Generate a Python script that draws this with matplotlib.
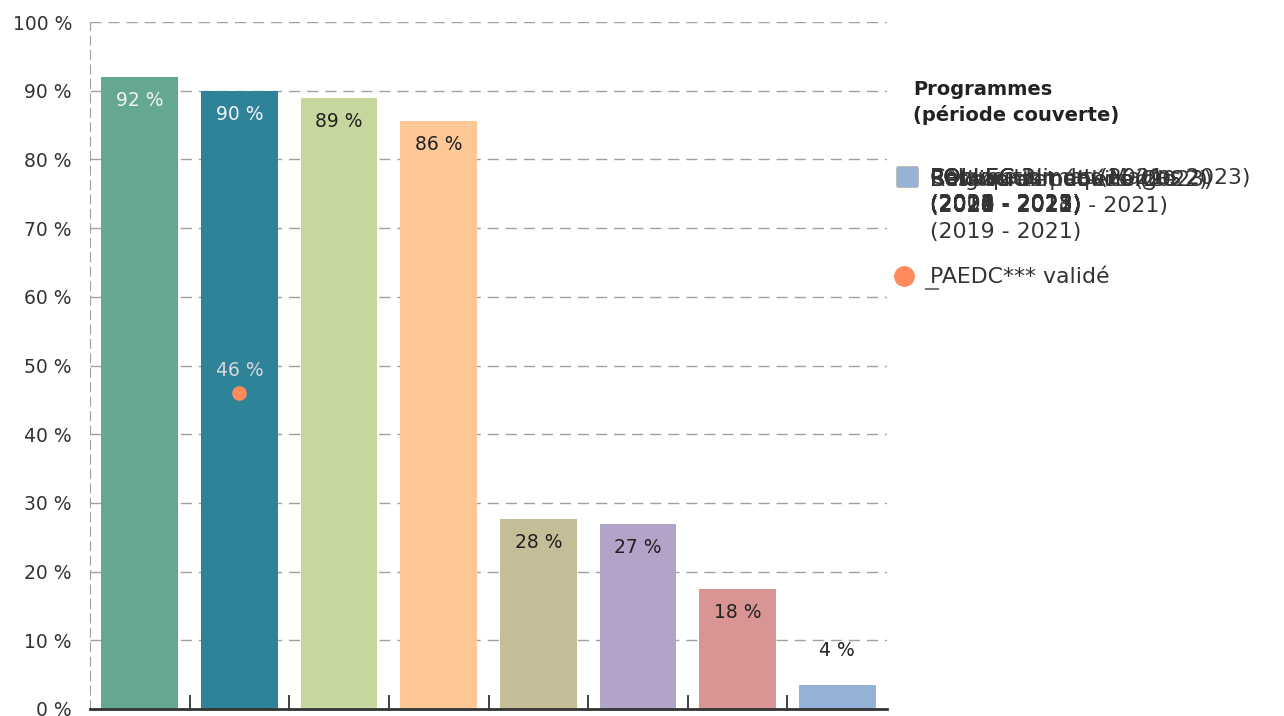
import matplotlib.pyplot as plt
from matplotlib.patches import Rectangle
from matplotlib.lines import Line2D

plt.rcParams['font.family'] = ['DejaVu Sans']

# valeurs (%)
valeurs = [92.0, 90.0, 88.9, 85.6, 27.6, 27.0, 17.5, 3.5]
etiquettes = ['92 %', '90 %', '89 %', '86 %', '28 %', '27 %', '18 %', '4 %']
couleurs = ['#64a98f', '#2f8399', '#c5d79c', '#fdc896',
            '#c4bd97', '#b2a3c8', '#d99594', '#95b3d7']
programmes = [
    'Convention des Maires\n(2008 - 2013)',
    'POLLEC 1\n(2012 - 2013)',
    'POLLEC 2\n(2014 - 2015)',
    'POLLEC 3\n(2016 - 2018)',
    'Réseau climat-énergie\n(2018 - 2021)',
    'Relance climat (2021 - 2023)\n(2021 - 2023)',
    'Bâtiments publics (2022)\n(2020 - 2022)',
    'Belgique et équité (2023)\n(2021 - 2023) - 2021)\n(2019 - 2021)',
]
paedc_x = 1
paedc_val = 46
paedc_label = '46 %'

fig = plt.figure(figsize=(12.84, 7.16), dpi=100)
ax = fig.add_axes([90 / 1284, 7 / 716, 797 / 1284, 687 / 716])

x = list(range(len(valeurs)))
ax.bar(x, valeurs, width=0.77, color=couleurs, zorder=3)

for i, (v, t) in enumerate(zip(valeurs, etiquettes)):
    if v < 10:
        ax.annotate(t, (i, v), xytext=(0, 25), textcoords='offset points',
                    ha='center', va='center', fontsize=13.5, color='#222222')
    else:
        col = '#f2f2f2' if i < 2 else '#222222'
        ax.annotate(t, (i, v), xytext=(0, -17), textcoords='offset points',
                    ha='center', va='center', fontsize=13.5, color=col, zorder=4)

# point PAEDC validé
ax.scatter([paedc_x], [paedc_val], s=110, color='#ff8a5c', zorder=5, linewidths=0)
ax.annotate(paedc_label, (paedc_x, paedc_val), xytext=(0, 16), textcoords='offset points',
            ha='center', va='center', fontsize=13.5, color='#d8d8d8', zorder=5)

ax.set_xlim(-0.5, 7.5)
ax.set_ylim(0, 100)
ax.set_yticks(range(0, 101, 10))
ax.set_yticklabels([f'{v} %' for v in range(0, 101, 10)], fontsize=13.5, color='#333333')
ax.tick_params(axis='y', length=0, pad=13)
ax.set_xticks([i + 0.5 for i in range(7)])
ax.set_xticklabels([])
ax.tick_params(axis='x', direction='in', length=10, width=1.3, color='#333333')
ax.grid(axis='y', color='#a0a0a0', linestyle=(0, (8, 5)), linewidth=1, zorder=0)

for s in ['top', 'right']:
    ax.spines[s].set_visible(False)
ax.spines['left'].set_color('#a0a0a0')
ax.spines['left'].set_linestyle((0, (8, 5)))
ax.spines['bottom'].set_color('#333333')
ax.spines['bottom'].set_linewidth(2)
ax.spines['bottom'].set_zorder(6)

# légende (les libellés se superposent comme dans l'original)
fig.text(913 / 1284, 1 - 80 / 716, 'Programmes\n(période couverte)', fontsize=14,
         fontweight='bold', color='#222222', va='top', linespacing=1.4)
for c, p in zip(couleurs, programmes):
    fig.add_artist(Rectangle((897 / 1284, 1 - 186 / 716), 20 / 1284, 19 / 716,
                             transform=fig.transFigure, color=c))
    fig.text(930 / 1284, 1 - 168 / 716, p, fontsize=15.8, color='#333333',
             va='top', linespacing=1.4)
fig.add_artist(Line2D([904 / 1284], [1 - 276 / 716], marker='o', markersize=14,
                      color='#ff8a5c', transform=fig.transFigure))
fig.add_artist(Line2D([926 / 1284, 938 / 1284], [1 - 289 / 716] * 2,
                      color='#777777', linewidth=1.5, transform=fig.transFigure))
fig.text(930 / 1284, 1 - 277 / 716, 'PAEDC*** validé', fontsize=15.8,
         color='#333333', va='center')

fig.savefig('out.png', dpi=100)
